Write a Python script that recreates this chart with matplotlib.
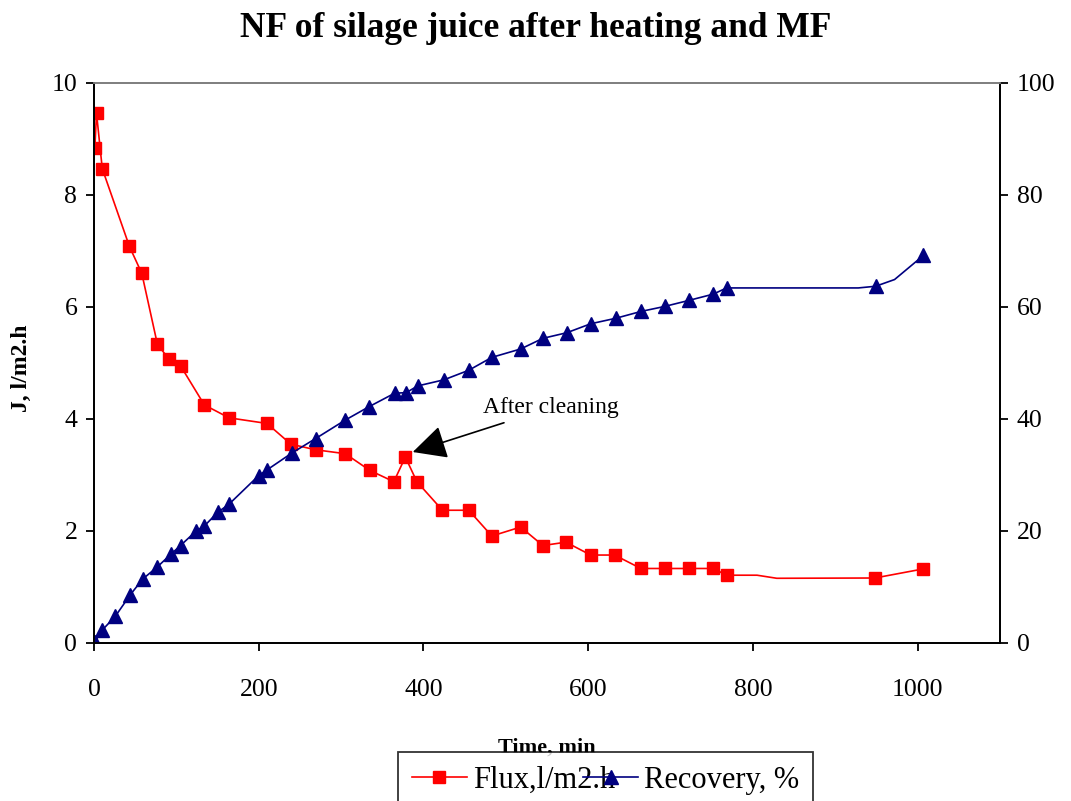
import matplotlib
matplotlib.use('Agg')
import matplotlib.pyplot as plt

plt.rcParams['font.family'] = ['Liberation Serif', 'DejaVu Serif']

# flux, l/m2.h
flux_t = [1, 3, 10, 43, 58, 77, 91, 105, 134, 164, 210, 239, 269, 305, 335,
          364, 378, 392, 423, 455, 483, 518, 545, 573, 603, 632, 664, 693,
          722, 752, 768, 805, 829, 948, 1006]
flux_j = [8.84, 9.46, 8.47, 7.08, 6.60, 5.33, 5.07, 4.95, 4.25, 4.02, 3.92,
          3.55, 3.45, 3.38, 3.08, 2.88, 3.32, 2.88, 2.37, 2.37, 1.91, 2.07,
          1.74, 1.80, 1.57, 1.57, 1.33, 1.33, 1.33, 1.33, 1.21, 1.21, 1.155,
          1.16, 1.32]
flux_marked = [i for i in range(len(flux_t)) if flux_t[i] not in (805, 829)]

# recovery, %
rec_t = [1, 10, 26, 44, 59, 77, 93, 105, 124, 134, 150, 164, 200, 210, 240,
         269, 305, 334, 365, 379, 393, 425, 455, 483, 518, 545, 574, 603, 634,
         664, 693, 723, 752, 768, 928, 949, 972, 1007]
rec_r = [0.2, 2.3, 4.8, 8.6, 11.4, 13.6, 15.8, 17.4, 20.0, 20.9, 23.3, 24.8,
         29.9, 30.9, 33.9, 36.5, 39.8, 42.2, 44.6, 44.7, 45.9, 47.0, 48.7,
         51.0, 52.5, 54.4, 55.4, 57.0, 58.0, 59.2, 60.1, 61.2, 62.3, 63.4,
         63.4, 63.7, 64.9, 69.2]
rec_marked = [i for i in range(len(rec_t)) if rec_t[i] not in (928, 972)]

fig = plt.figure(figsize=(10.71, 8.01), dpi=100)
ax = fig.add_axes([0.0878, 0.1973, 0.8459, 0.6991])
ax2 = ax.twinx()

l1, = ax.plot(flux_t, flux_j, color='#FF0000', lw=1.2, marker='s', ms=9,
              mec='#FF0000', markevery=flux_marked, label='Flux,l/m2.h')
l2, = ax2.plot(rec_t, rec_r, color='#000080', lw=1.2, marker='^', ms=10,
               mec='#000080', markevery=rec_marked, label='Recovery, %')

ax.set_xlim(0, 1100)
ax.set_ylim(0, 10)
ax2.set_ylim(0, 100)
ax.set_xticks([0, 200, 400, 600, 800, 1000])
ax.set_yticks([0, 2, 4, 6, 8, 10])
ax2.set_yticks([0, 20, 40, 60, 80, 100])

for a in (ax, ax2):
    a.tick_params(labelsize=18.5, length=6, width=1.3, direction='out', pad=6)
    for s in a.spines.values():
        s.set_linewidth(1.3)
    a.spines['top'].set_color('#808080')
ax.tick_params(axis='x', pad=20)

ax.set_ylabel('J, l/m2.h', fontsize=17, fontweight='bold')
ax.yaxis.set_label_coords(-0.068, 0.49)
ax.set_xlabel('Time, min', fontsize=16, fontweight='bold', labelpad=26)
fig.suptitle('NF of silage juice after heating and MF', fontsize=25.5,
             fontweight='bold', y=0.985)

ax.annotate('After cleaning', xy=(387, 3.41), xytext=(472, 4.2),
            fontsize=17, va='center', ha='left',
            arrowprops=dict(arrowstyle='-|>,head_length=0.7,head_width=0.35',
                            color='black', lw=1.2, mutation_scale=30,
                            shrinkA=4, shrinkB=0))

leg = fig.legend(handles=[l1, l2], loc='upper left',
                 bbox_to_anchor=(398 / 1071, 1 - 752 / 801), ncol=2,
                 fontsize=22, frameon=True, fancybox=False, edgecolor='black',
                 handlelength=1.8, handletextpad=0.2, columnspacing=-1.05,
                 borderpad=0.45, borderaxespad=0)
leg.get_frame().set_linewidth(1.3)

fig.savefig('out.png', dpi=100)
